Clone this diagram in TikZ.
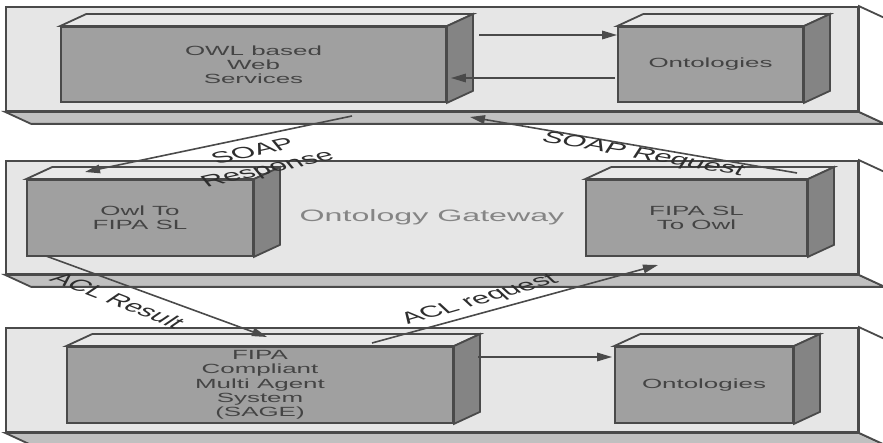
\documentclass[tikz,border=0pt]{standalone}
\usepackage{fontspec}
\setmainfont{Liberation Sans}
\newfontfamily\widesans[FakeStretch=1.95]{Liberation Sans}
\usetikzlibrary{arrows.meta,calc}

\definecolor{slabface}{HTML}{E6E6E6}
\definecolor{slabbase}{HTML}{C0C0C0}
\definecolor{boxface}{HTML}{A0A0A0}
\definecolor{boxtop}{HTML}{E9E9E9}
\definecolor{boxside}{HTML}{848484}
\definecolor{edge}{HTML}{4A4A4A}
\definecolor{boxtext}{HTML}{444444}
\definecolor{tagtext}{HTML}{2E2E2E}
\definecolor{gatetext}{HTML}{858585}

% top and side faces of a box whose front face is node #1
\newcommand\cubefaces[1]{%
  \filldraw[outline, fill=boxtop] (#1.north west) -- ++(26,-12)
    -- ($(#1.north east)+(26,-12)$) -- (#1.north east) -- cycle;
  \filldraw[outline, fill=boxside] (#1.north east) -- ++(26,-12)
    -- ($(#1.south east)+(26,-12)$) -- (#1.south east) -- cycle;
}
% base and right faces of a layer whose front face is node #1
\newcommand\slabfaces[1]{%
  \filldraw[outline, fill=slabbase] (#1.south west) -- ++(26,12)
    -- ($(#1.south east)+(26,12)$) -- (#1.south east) -- cycle;
  \filldraw[outline, fill=white] (#1.north east) -- ++(26,12)
    -- ($(#1.south east)+(26,12)$) -- (#1.south east) -- cycle;
}

\begin{document}
\begin{tikzpicture}[x=1pt, y=-1pt,
  outline/.style={draw=edge, line width=1.8pt, line join=miter},
  slab/.style={outline, fill=slabface, rectangle, inner sep=0pt, minimum width=852pt},
  cube/.style={outline, fill=boxface, rectangle, inner sep=0pt, align=center,
    text=boxtext, font=\widesans\fontsize{13.3}{14.2}\selectfont},
  flow/.style={draw=edge, line width=1.6pt, -{Triangle[length=15pt,width=8.5pt]}},
  tag/.style={text=tagtext, inner sep=0pt, align=center, xscale=1.95,
    font=\fontsize{16}{19}\selectfont},
]
\useasboundingbox (0,0) rectangle (883,443);
\clip (0,0) rectangle (883,443);

% ---- layers ----
\node[slab, minimum height=104pt] (webLayer) at (432,59) {};
\slabfaces{webLayer}
\node[slab, minimum height=113pt] (gateLayer) at (432,217.5) {};
\slabfaces{gateLayer}
\node[slab, minimum height=104pt] (agentLayer) at (432,380) {};
\slabfaces{agentLayer}

\node[text=gatetext, font=\widesans\fontsize{16.5}{18}\selectfont] (gateName) at (432,217) {Ontology Gateway};

% ---- boxes ----
\node[cube, minimum width=385pt, minimum height=75pt] (owlws) at (253.5,64.5) {OWL based\\Web\\Services};
\cubefaces{owlws}
\node[cube, minimum width=185pt, minimum height=75pt] (ontoTop) at (710.5,64.5) {Ontologies};
\cubefaces{ontoTop}
\node[cube, minimum width=226pt, minimum height=76pt] (owl2sl) at (140,218) {Owl To\\FIPA SL};
\cubefaces{owl2sl}
\node[cube, minimum width=221pt, minimum height=76pt] (sl2owl) at (696.5,218) {FIPA SL\\To Owl};
\cubefaces{sl2owl}
\node[cube, minimum width=386pt, minimum height=76pt] (sage) at (260,385) {FIPA\\Compliant\\Multi Agent\\System\\(SAGE)};
\cubefaces{sage}
\node[cube, minimum width=178pt, minimum height=76pt] (ontoBot) at (704,385) {Ontologies};
\cubefaces{ontoBot}

% ---- arrows inside layers ----
\coordinate (wsOut) at (479,35);
\coordinate (ontOut) at (615,78);
\coordinate (sageOut) at (478,357);
\draw[flow] (wsOut) -- (wsOut -| ontoTop.west);
\draw[flow] (ontOut) -- ([xshift=4pt]ontOut -| owlws.east);
\draw[flow] (sageOut) -- ([xshift=-2pt]sageOut -| ontoBot.west);

% ---- arrows between layers ----
\coordinate (respFrom) at (352,116);
\coordinate (respTo) at (85,172);
\coordinate (reqFrom) at (797,173);
\coordinate (reqTo) at (470,117);
\coordinate (resFrom) at (46,256);
\coordinate (resTo) at (267,337);
\coordinate (aclFrom) at (372,343);
\coordinate (aclTo) at (658,265);
\draw[flow] (respFrom) -- (respTo);
\draw[flow] (reqFrom) -- (reqTo);
\draw[flow] (resFrom) -- (resTo);
\draw[flow] (aclFrom) -- (aclTo);

\node[tag, rotate=23] (respTag) at (261,161) {SOAP\\Response};
\node[tag, rotate=-18.5] (reqTag) at (643,155) {SOAP Request};
\node[tag, rotate=-37] (resTag) at (118,300) {ACL Result};
\node[tag, rotate=29] (aclTag) at (480,300) {ACL request};
\end{tikzpicture}
\end{document}
